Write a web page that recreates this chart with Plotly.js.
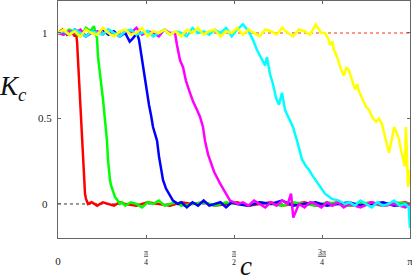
<!DOCTYPE html>
<html>
<head>
<meta charset="utf-8">
<script src="https://cdn.plot.ly/plotly-3.0.1.min.js"></script>
<style>html,body{margin:0;padding:0;background:#fff;}#chart{width:412px;height:277px;}</style>
</head>
<body>
<div id="chart"></div>
<script>
// ---- data ----
const redX = [0, 0.04, 0.08, 0.12, 0.15, 0.161, 0.170, 0.179, 0.188, 0.196, 0.205, 0.214, 0.223, 0.232, 0.241, 0.250, 0.268,
  0.30, 0.35, 0.40, 0.45, 0.50, 0.55, 0.60, 0.70, 0.80, 0.90, 1.00, 1.10, 1.20, 1.30, 1.40, 1.50, 1.60, 1.70, 1.80, 1.90, 2.00, 2.10, 2.20, 2.30, 2.40, 2.50, 2.60, 2.70, 2.80, 2.90, 3.00, 3.10, 3.1416];
const redY = [1.00, 1.02, 0.99, 1.01, 0.98, 1.00, 0.95, 0.84, 0.73, 0.61, 0.49, 0.37, 0.27, 0.17, 0.06, 0.03, 0.00,
  0.01, -0.01, 0.01, 0.00, -0.01, 0.01, 0.00, -0.01, 0.01, 0.00, -0.01, 0.01, 0.00, 0.01, -0.01, 0.00, 0.01, -0.01, 0.00, 0.01, -0.01, 0.00, 0.01, -0.01, 0.00, 0.01, -0.01, 0.00, 0.01, -0.01, 0.00, 0.01, 0.00];

const greenX = [0, 0.05, 0.10, 0.15, 0.20, 0.25, 0.29, 0.32, 0.339, 0.348, 0.357, 0.366, 0.375, 0.384, 0.393, 0.402, 0.411, 0.419, 0.428, 0.437, 0.446, 0.455, 0.464, 0.473, 0.482, 0.495, 0.509, 0.522, 0.535, 0.553, 0.571,
  0.60, 0.65, 0.70, 0.75, 0.80, 0.85, 0.90, 0.95, 1.00, 1.05, 1.10, 1.20, 1.30, 1.40, 1.50, 1.60, 1.70, 1.80, 1.90, 2.00, 2.10, 2.20, 2.30, 2.40, 2.50, 2.60, 2.70, 2.80, 2.90, 3.00, 3.10, 3.1416];
const greenY = [1.00, 0.99, 1.02, 1.00, 0.98, 1.03, 1.01, 1.04, 1.00, 0.97, 0.86, 0.80, 0.75, 0.71, 0.66, 0.61, 0.55, 0.48, 0.43, 0.37, 0.26, 0.19, 0.14, 0.11, 0.09, 0.06, 0.04, 0.03, 0.02, 0.00, 0.01,
  -0.01, 0.01, 0.00, -0.02, 0.01, 0.00, 0.02, -0.01, 0.00, 0.01, -0.01, 0.00, 0.01, -0.01, 0.01, 0.00, -0.01, 0.01, 0.00, -0.01, 0.01, 0.00, -0.01, 0.01, 0.00, -0.01, 0.01, 0.00, -0.01, 0.01, 0.00, 0.00];

const blueX = [0, 0.05, 0.10, 0.15, 0.20, 0.25, 0.30, 0.35, 0.40, 0.45, 0.50, 0.55, 0.60, 0.64, 0.67, 0.705, 0.723, 0.741, 0.768, 0.785, 0.794, 0.812, 0.830, 0.848, 0.866, 0.884, 0.901, 0.919, 0.937, 0.964, 1.000, 1.026, 1.071,
  1.10, 1.15, 1.20, 1.25, 1.30, 1.35, 1.40, 1.45, 1.50, 1.55, 1.60, 1.70, 1.80, 1.90, 2.00, 2.10, 2.20, 2.30, 2.40, 2.50, 2.60, 2.70, 2.80, 2.90, 3.00, 3.10, 3.1416];
const blueY = [1.00, 1.01, 0.99, 1.02, 1.00, 0.98, 1.01, 1.00, 1.02, 0.99, 1.01, 0.98, 1.00, 0.95, 0.97, 1.00, 0.96, 0.88, 0.78, 0.68, 0.65, 0.58, 0.52, 0.45, 0.41, 0.37, 0.28, 0.22, 0.14, 0.09, 0.05, 0.02, 0.00,
  0.01, -0.02, 0.01, -0.01, 0.02, -0.01, 0.00, 0.01, -0.02, 0.01, 0.00, -0.01, 0.01, 0.00, 0.02, -0.01, 0.00, 0.01, -0.01, 0.00, 0.01, -0.01, 0.00, 0.01, -0.01, 0.00, 0.00];

const magentaX = [0, 0.05, 0.10, 0.15, 0.20, 0.25, 0.30, 0.35, 0.40, 0.45, 0.50, 0.55, 0.60, 0.65, 0.70, 0.75, 0.80, 0.85, 0.90, 0.95, 1.00,
  1.044, 1.062, 1.089, 1.116, 1.142, 1.178, 1.205, 1.241, 1.267, 1.294, 1.312, 1.339, 1.357, 1.392, 1.446, 1.490, 1.535, 1.607,
  1.65, 1.70, 1.75, 1.80, 1.85, 1.90, 1.95, 2.00, 2.05, 2.08, 2.10, 2.15, 2.20, 2.25, 2.30, 2.35, 2.40, 2.45, 2.50, 2.55, 2.60,
  2.70, 2.80, 2.90, 3.00, 3.10, 3.1416];
const magentaY = [1.00, 0.99, 1.01, 1.00, 1.02, 0.98, 1.00, 1.01, 0.99, 1.02, 1.00, 0.98, 1.01, 1.00, 1.03, 0.99, 1.01, 1.00, 0.98, 1.02, 1.00,
  1.00, 0.93, 0.84, 0.80, 0.72, 0.65, 0.60, 0.55, 0.51, 0.45, 0.37, 0.29, 0.26, 0.19, 0.12, 0.07, 0.02, 0.00,
  0.01, -0.01, 0.02, 0.00, -0.02, 0.01, -0.01, 0.02, 0.00, 0.06, -0.08, 0.00, -0.02, 0.01, 0.00, -0.02, 0.01, -0.01, 0.01, -0.02, 0.00,
  -0.02, 0.01, -0.01, 0.00, -0.02, 0.00];

const cyanX = [0, 0.05, 0.10, 0.15, 0.20, 0.25, 0.30, 0.35, 0.40, 0.45, 0.50, 0.55, 0.60, 0.65, 0.70, 0.75, 0.80, 0.85, 0.90, 0.95,
  1.00, 1.05, 1.10, 1.15, 1.20, 1.25, 1.30, 1.35, 1.40, 1.45, 1.50, 1.55, 1.60, 1.65, 1.70,
  1.740, 1.776, 1.821, 1.848, 1.865, 1.892, 1.919, 1.946, 1.972, 1.999, 2.026, 2.062, 2.097, 2.133, 2.160, 2.178, 2.214, 2.240, 2.267, 2.321, 2.383, 2.445, 2.508, 2.561,
  2.60, 2.65, 2.70, 2.75, 2.80, 2.85, 2.90, 2.95, 3.00, 3.05, 3.10, 3.13, 3.1416];
const cyanY = [1.00, 1.01, 0.99, 1.02, 1.00, 0.98, 1.01, 1.00, 0.99, 1.02, 1.00, 0.98, 1.01, 1.02, 0.99, 1.00, 1.01, 0.98, 1.00, 1.02,
  0.99, 1.01, 1.00, 0.98, 1.03, 1.00, 1.01, 0.99, 1.02, 1.00, 1.03, 0.98, 1.02, 1.05, 1.01,
  0.96, 0.90, 0.84, 0.81, 0.86, 0.76, 0.70, 0.62, 0.58, 0.65, 0.55, 0.50, 0.45, 0.37, 0.31, 0.26, 0.22, 0.20, 0.17, 0.12, 0.06, 0.03, 0.02, 0.00,
  0.01, -0.01, 0.02, 0.00, -0.02, 0.01, -0.01, 0.00, 0.02, -0.01, 0.00, -0.02, -0.14];

const yellowX = [0, 0.05, 0.10, 0.15, 0.20, 0.25, 0.30, 0.35, 0.40, 0.45, 0.50, 0.55, 0.60, 0.65, 0.70, 0.75, 0.80, 0.85, 0.90, 0.95,
  1.00, 1.05, 1.10, 1.15, 1.20, 1.25, 1.30, 1.35, 1.40, 1.45, 1.50, 1.55, 1.60, 1.65, 1.70, 1.75, 1.80, 1.85, 1.90, 1.95,
  2.00, 2.05, 2.10, 2.15, 2.20, 2.25, 2.30, 2.35,
  2.383, 2.41, 2.428, 2.45, 2.463, 2.49, 2.508, 2.53, 2.552, 2.575, 2.597, 2.615, 2.633, 2.651, 2.67, 2.686, 2.713, 2.73, 2.749, 2.776, 2.80, 2.811, 2.84,
  2.865, 2.89, 2.909, 2.93, 2.954, 2.98, 3.00, 3.02, 3.043, 3.06, 3.079, 3.095, 3.106, 3.115, 3.124, 3.133, 3.1416];
const yellowY = [1.00, 1.02, 0.99, 1.01, 0.98, 1.02, 1.00, 0.99, 1.03, 1.00, 0.98, 1.01, 1.02, 0.99, 1.00, 1.03, 0.98, 1.01, 1.00, 1.02,
  0.99, 1.01, 0.98, 1.02, 1.00, 1.03, 0.99, 1.01, 1.02, 0.98, 1.01, 1.00, 1.03, 0.99, 1.02, 1.00, 0.98, 1.02, 1.01, 0.99,
  1.03, 1.00, 0.98, 1.02, 1.01, 0.99, 1.05, 1.00,
  1.00, 0.97, 0.93, 0.95, 0.90, 0.86, 0.82, 0.78, 0.75, 0.80, 0.78, 0.74, 0.71, 0.67, 0.70, 0.66, 0.62, 0.60, 0.57, 0.55, 0.52, 0.50, 0.48,
  0.50, 0.47, 0.42, 0.38, 0.30, 0.38, 0.45, 0.42, 0.38, 0.32, 0.26, 0.22, 0.45, 0.25, 0.10, 0.20, 0.12];

const refX = [0, Math.PI];
const refOne = [1, 1];
const refZero = [0, 0];

const xTickVals = [0, Math.PI / 4, Math.PI / 2, 3 * Math.PI / 4, Math.PI];
const xTickText = ['<br><span style="font-size:11px">0</span>', '<u>π</u><br>4', '<u>π</u><br>2', '<u>3π</u><br>4', '<br><span style="font-size:11px">π</span>'];
const yTickVals = [0, 0.5, 1];
const yTickText = ['0', '0.5', '1'];

// ---- traces ----
function curve(x, y, color) {
  return {x: x, y: y, type: 'scatter', mode: 'lines', line: {color: color, width: 2.5}, hoverinfo: 'skip'};
}
const traces = [
  {x: refX, y: refZero, type: 'scatter', mode: 'lines', line: {color: '#333333', width: 1, dash: 'dot'}},
  {x: refX, y: refOne, type: 'scatter', mode: 'lines', line: {color: '#ff3010', width: 1.2, dash: 'dot'}},
  curve(redX, redY, '#ff0000'),
  curve(greenX, greenY, '#00ff00'),
  curve(blueX, blueY, '#0000ff'),
  curve(magentaX, magentaY, '#ff00ff'),
  curve(cyanX, cyanY, '#00ffff'),
  curve(yellowX, yellowY, '#ffff00')
];

const serif = 'Liberation Serif, Times New Roman, serif';

// y tick labels are centred on one column, as in the reference
const yLabelAnn = yTickVals.map((v, i) => ({
  text: yTickText[i], xref: 'paper', yref: 'y', x: -0.038, y: v,
  xanchor: 'center', yanchor: 'middle', showarrow: false,
  font: {family: serif, size: 11, color: '#222'}
}));

const layout = {
  width: 412, height: 277,
  margin: {l: 58, r: 2, t: 1, b: 39},
  paper_bgcolor: '#ffffff', plot_bgcolor: '#ffffff',
  showlegend: false,
  font: {family: serif, color: '#222'},
  xaxis: {
    range: [0, Math.PI], showgrid: false, zeroline: false,
    showline: true, mirror: 'ticks', linecolor: '#666', linewidth: 1.2,
    ticks: 'inside', ticklen: 3, tickcolor: '#666',
    tickmode: 'array', tickvals: xTickVals, ticktext: xTickText,
    tickfont: {family: serif, size: 8, color: '#222'},
    ticklabelstandoff: 6, ticklabeloverflow: 'allow'
  },
  yaxis: {
    range: [-0.199, 1.187], showgrid: false, zeroline: false,
    showline: true, mirror: 'ticks', linecolor: '#666', linewidth: 1.2,
    ticks: 'inside', ticklen: 3, tickcolor: '#666',
    tickmode: 'array', tickvals: yTickVals, showticklabels: false
  },
  annotations: yLabelAnn.concat([
    {
      text: '<i>K<sub>c</sub></i>', xref: 'paper', yref: 'paper', x: -0.128, y: 0.632,
      xanchor: 'center', yanchor: 'middle', showarrow: false,
      font: {family: serif, size: 27, color: '#111'}
    },
    {
      text: '<i>c</i>', xref: 'paper', yref: 'paper', x: 0.534, y: -0.118,
      xanchor: 'center', yanchor: 'middle', showarrow: false,
      font: {family: serif, size: 27, color: '#111'}
    }
  ])
};
Plotly.newPlot('chart', traces, layout, {staticPlot: true, displayModeBar: false});
</script>
</body>
</html>
